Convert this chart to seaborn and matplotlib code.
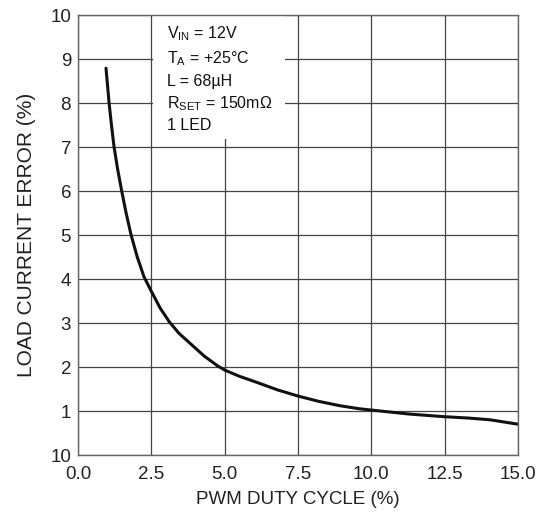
import matplotlib
matplotlib.use("Agg")
import matplotlib.pyplot as plt
import seaborn as sns
import pandas as pd
from matplotlib.patches import Rectangle

duty = [0.955, 1.06, 1.14, 1.23, 1.35, 1.49, 1.64, 1.81, 2.02, 2.25, 2.5, 2.8, 3.12, 3.45,
        3.85, 4.3, 4.75, 5.0, 5.5, 6.1, 6.8, 7.5, 8.2, 8.93, 9.6, 10.3, 11.3, 12.5, 13.3, 14.05, 15.0]
error = [8.79, 8.0, 7.5, 7.0, 6.5, 6.0, 5.5, 5.0, 4.5, 4.05, 3.72, 3.34, 3.02, 2.76,
         2.52, 2.25, 2.03, 1.93, 1.79, 1.65, 1.48, 1.34, 1.22, 1.12, 1.05, 1.0, 0.93, 0.87, 0.84, 0.80, 0.70]
x_ticks = [0.0, 2.5, 5.0, 7.5, 10.0, 12.5, 15.0]
x_tick_labels = ["0.0", "2.5", "5.0", "7.5", "10.0", "12.5", "15.0"]
y_ticks = [0, 1, 2, 3, 4, 5, 6, 7, 8, 9, 10]
y_tick_labels = ["10", "1", "2", "3", "4", "5", "6", "7", "8", "9", "10"]
notes = [r"$\mathregular{V_{IN}}$ = 12V", r"$\mathregular{T_A}$ = +25°C", "L = 68µH",
         r"$\mathregular{R_{SET}}$ = 150mΩ", "1 LED"]
note_y = [9.57, 9.0, 8.48, 7.98, 7.48]

sns.set_style("white")
plt.rcParams["font.family"] = ["Liberation Sans", "DejaVu Sans"]
plt.rcParams["mathtext.fontset"] = "custom"
plt.rcParams["mathtext.rm"] = "Liberation Sans"

fig = plt.figure(figsize=(5.52, 5.14), dpi=100)
ax = fig.add_axes([78/552, 1 - 455/514, 440/552, 440/514])

df = pd.DataFrame({"duty": duty, "error": error})
sns.lineplot(data=df, x="duty", y="error", ax=ax, color="#111111", linewidth=2.2)

ax.set_xlim(0, 15)
ax.set_ylim(0, 10)
ax.set_xticks(x_ticks)
ax.set_xticklabels(x_tick_labels)
ax.set_yticks(y_ticks)
ax.set_yticklabels(y_tick_labels)
ax.grid(True, color="#444444", linewidth=0.9)
ax.set_axisbelow(True)
for s in ax.spines.values():
    s.set_color("#666666")
    s.set_linewidth(1.0)
ax.tick_params(axis="both", length=0, labelsize=13.5, colors="#222222")
ax.tick_params(axis="x", pad=8)
ax.tick_params(axis="y", pad=5)
ax.set_xlabel("PWM DUTY CYCLE (%)", fontsize=13.5, color="#222222", labelpad=6)
ax.set_ylabel("LOAD CURRENT ERROR (%)", fontsize=15, color="#222222", labelpad=10)

# white box behind annotations
ax.add_patch(Rectangle((2.56, 7.18), 7.04 - 2.56, 10 - 7.18 - 0.03, transform=ax.transData,
                       facecolor="white", edgecolor="none", zorder=1.5))
for t, yv in zip(notes, note_y):
    ax.text(3.03, yv, t, fontsize=11.5, color="#111111", va="center", ha="left", zorder=3)

fig.savefig("out.png", dpi=100)
